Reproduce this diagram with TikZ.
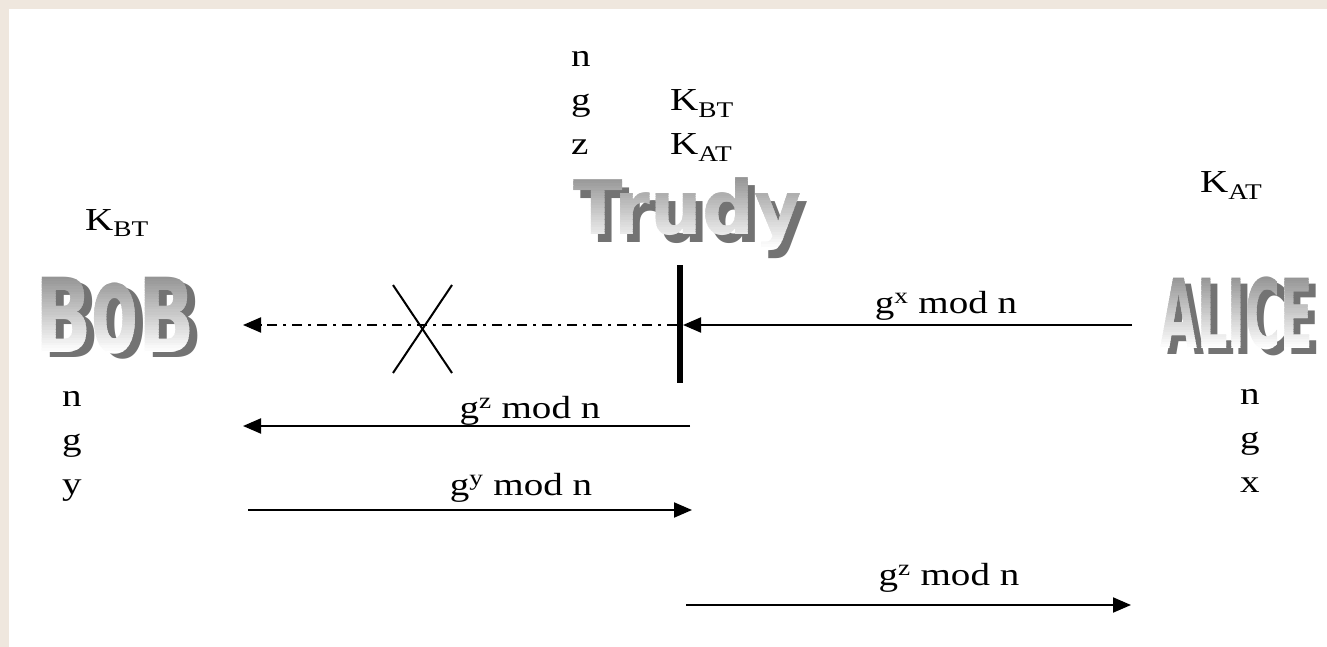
\documentclass[tikz,border=0pt]{standalone}
\usepackage{fontspec}
\usepackage{graphicx}
\setmainfont{Liberation Serif}[FakeStretch=1.22]
\newfontfamily\heavyfont{DejaVu Sans}
\usetikzlibrary{arrows.meta}
\definecolor{cream}{HTML}{EFE7DE}
\definecolor{shadowgray}{HTML}{737373}
\definecolor{topgray}{HTML}{959595}
\newcommand{\gradword}[8]{% name, x, y, w, h, dx, dy, text
  \node[anchor=north west, inner sep=0pt, text=shadowgray] (#1shadow) at ({#2+#6},{#3+#7}) {\resizebox*{#4pt}{#5pt}{#8}};
  \foreach \i in {0,...,29}{
    \pgfmathsetmacro{\pct}{100*(1-\i/29)}
    \begin{scope}
      \clip ({#2-4},{#3+#5*\i/30-0.4}) rectangle ({#2+#4+4},{#3+#5*(\i+1)/30+0.4});
      \node[anchor=north west, inner sep=0pt, text=topgray!\pct!white] (#1strip\i) at (#2,#3) {\resizebox*{#4pt}{#5pt}{#8}};
    \end{scope}
  }
}
\begin{document}
\begin{tikzpicture}[x=1pt,y=-1pt,
  lbl/.style={font=\fontsize{32}{36}\selectfont, inner sep=0pt, anchor=base west},
  msg/.style={font=\fontsize{32}{36}\selectfont, inner sep=0pt, anchor=base},
  arr/.style={line width=2pt, -{Triangle[length=18pt,width=15pt]}},
  crossline/.style={line width=2pt}]
\useasboundingbox (0,0) rectangle (1327,647);
\fill[cream] (0,0) rectangle (1327,647);
\fill[white] (9,9) rectangle (1327,647);

% fancy names
\gradword{bob}{35}{277}{160}{77}{8}{5}{\heavyfont\bfseries B\scalebox{0.92}[1.2]{o}B}
\gradword{trudy}{573}{177}{228}{73}{7}{8}{\heavyfont\bfseries Trudy}
\gradword{alice}{1160}{277}{153}{73}{7}{6}{\heavyfont\bfseries ALICE}

% Trudy's values
\node[lbl] (tn) at (571,67) {n};
\node[lbl] (tg) at (571,111) {g};
\node[lbl] (tz) at (571,155) {z};
\node[lbl] (tkbt) at (670,111) {K\textsubscript{BT}};
\node[lbl] (tkat) at (670,155) {K\textsubscript{AT}};

% Alice's values
\node[lbl] (akat) at (1200,193) {K\textsubscript{AT}};
\node[lbl] (an) at (1240,404) {n};
\node[lbl] (ag) at (1240,448) {g};
\node[lbl] (ax) at (1240,492) {x};

% Bob's values
\node[lbl] (bkbt) at (85,230) {K\textsubscript{BT}};
\node[lbl] (bn) at (62,406) {n};
\node[lbl] (bg) at (62,450) {g};
\node[lbl] (by) at (62,494) {y};

% coordinates
\coordinate (barTop) at (680,265);
\coordinate (barBot) at (680,383);
\coordinate (aliceOut) at (1132,325);
\coordinate (barIn) at (683,325);
\coordinate (barOut) at (677,325);
\coordinate (bobIn1) at (243,325);
\coordinate (trudyOut1) at (690,426);
\coordinate (bobIn2) at (243,426);
\coordinate (bobOut) at (248,510);
\coordinate (trudyIn) at (692,510);
\coordinate (trudyOut2) at (686,605);
\coordinate (aliceIn) at (1131,605);
\coordinate (x1) at (393,285);
\coordinate (x2) at (452,373);
\coordinate (x3) at (452,285);
\coordinate (x4) at (393,373);

% Trudy's bar
\draw[line width=6pt] (barTop) -- (barBot);

% messages
\draw[arr] (aliceOut) -- (barIn);
\node[msg] (m1) at (946,313) {g\textsuperscript{x} mod n};
\draw[arr, dash pattern=on 10pt off 6pt on 3pt off 6pt] (barOut) -- (bobIn1);
\draw[crossline] (x1) -- (x2);
\draw[crossline] (x3) -- (x4);
\draw[arr] (trudyOut1) -- (bobIn2);
\node[msg] (m2) at (530,418) {g\textsuperscript{z} mod n};
\draw[arr] (bobOut) -- (trudyIn);
\node[msg] (m3) at (521,495) {g\textsuperscript{y} mod n};
\draw[arr] (trudyOut2) -- (aliceIn);
\node[msg] (m4) at (949,585) {g\textsuperscript{z} mod n};
\end{tikzpicture}
\end{document}
